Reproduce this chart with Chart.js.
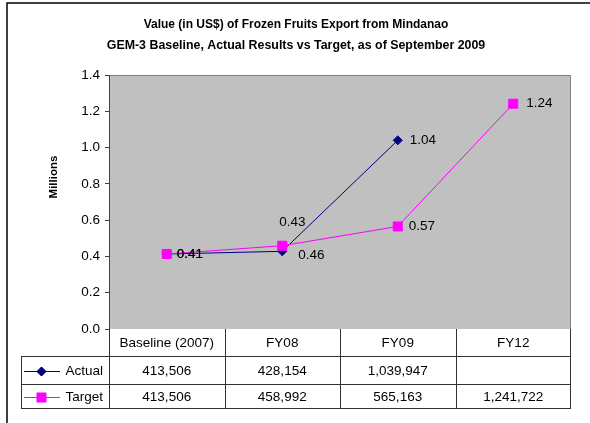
<!DOCTYPE html>
<html><head><meta charset="utf-8">
<script src="https://cdn.jsdelivr.net/npm/chart.js@4/dist/chart.umd.min.js"></script>
<style>html,body{margin:0;padding:0;background:#fff}#wrap{width:590px;height:423px}</style>
</head><body><div id="wrap"><canvas id="c" width="590" height="423"></canvas></div>
<script>
// ---- data ----
const categories = ['Baseline (2007)', 'FY08', 'FY09', 'FY12'];
const seriesNames = ['Actual', 'Target'];
const actualValues = [413506, 428154, 1039947, null];
const targetValues = [413506, 458992, 565163, 1241722];
const yTickValues = [0, 0.2, 0.4, 0.6, 0.8, 1.0, 1.2, 1.4];
const titleLines = ['Value (in US$) of Frozen Fruits Export from Mindanao',
                    'GEM-3 Baseline, Actual Results vs Target, as of September 2009'];
const yAxisTitle = 'Millions';

// ---- styling ----
const FONT = '"Liberation Sans", Arial, sans-serif';
const colors = { Actual: '#000080', Target: '#FF00FF' };
// label offsets [dx, dy] per point (styling only)
const labelOffsets = {
  Actual: [[10, 0], [-3, -29], [12, 0], [12, 0]],
  Target: [[10, 0], [16, 10], [11, 0], [13, 0]]
};

const toMillions = a => a.map(v => v == null ? null : v / 1e6);
const fmtThousands = v => v == null ? '' : v.toLocaleString('en-US');

const bgPlugin = {
  id: 'bg',
  beforeDraw(chart) {
    const { ctx, chartArea: a } = chart;
    ctx.save();
    ctx.fillStyle = '#fff';
    ctx.fillRect(0, 0, chart.width, chart.height);
    // outer frame (cropped)
    ctx.strokeStyle = '#000';
    ctx.lineWidth = 1.5;
    ctx.beginPath();
    ctx.moveTo(7, 423); ctx.lineTo(7, 3); ctx.lineTo(590, 3);
    ctx.stroke();
    // plot area
    ctx.fillStyle = '#C0C0C0';
    ctx.fillRect(a.left, a.top, a.right - a.left, a.bottom - a.top);
    ctx.strokeStyle = '#808080';
    ctx.lineWidth = 1;
    ctx.beginPath();
    ctx.moveTo(a.left, a.top + 0.5); ctx.lineTo(a.right - 0.5, a.top + 0.5); ctx.lineTo(a.right - 0.5, a.bottom);
    ctx.stroke();
    // title
    ctx.fillStyle = '#000';
    ctx.textAlign = 'center';
    ctx.textBaseline = 'middle';
    ctx.font = 'bold 12px ' + FONT;
    ctx.fillText(titleLines[0], 296, 25);
    ctx.font = 'bold 12.4px ' + FONT;
    ctx.fillText(titleLines[1], 296, 46);
    // y axis title
    ctx.save();
    ctx.translate(54, 177);
    ctx.rotate(-Math.PI / 2);
    ctx.font = 'bold 11.5px ' + FONT;
    ctx.fillText(yAxisTitle, 0, 0);
    ctx.restore();
    ctx.restore();
  }
};

const tablePlugin = {
  id: 'table',
  afterDatasetsDraw(chart) {
    const { ctx, chartArea: a, scales: { x } } = chart;
    const half = (x.getPixelForValue(1) - x.getPixelForValue(0)) / 2;
    const rows = [a.bottom, a.bottom + 27, a.bottom + 55, a.bottom + 79];
    const legendLeft = 21;
    ctx.save();
    // data labels
    ctx.font = '13.5px ' + FONT;
    ctx.fillStyle = '#000';
    ctx.textAlign = 'left';
    ctx.textBaseline = 'middle';
    chart.data.datasets.forEach((ds, di) => {
      const meta = chart.getDatasetMeta(di);
      const offs = labelOffsets[ds.label];
      meta.data.forEach((pt, i) => {
        if (ds.data[i] == null) return;
        ctx.fillText(ds.data[i].toFixed(2), pt.x + offs[i][0], pt.y + offs[i][1]);
      });
    });
    // table grid
    ctx.strokeStyle = '#333';
    ctx.lineWidth = 1;
    ctx.beginPath();
    ctx.moveTo(a.left, rows[1] + 0.5); ctx.lineTo(a.right, rows[1] + 0.5);
    ctx.moveTo(legendLeft, rows[1] + 0.5); ctx.lineTo(a.left, rows[1] + 0.5);
    ctx.moveTo(legendLeft, rows[2] + 0.5); ctx.lineTo(a.right, rows[2] + 0.5);
    ctx.moveTo(legendLeft, rows[3] + 0.5); ctx.lineTo(a.right, rows[3] + 0.5);
    ctx.moveTo(legendLeft + 0.5, rows[1]); ctx.lineTo(legendLeft + 0.5, rows[3] + 1);
    categories.forEach((c, i) => {
      const xl = Math.round(x.getPixelForValue(i) - half) + 0.5;
      ctx.moveTo(xl, rows[0]); ctx.lineTo(xl, rows[3] + 1);
    });
    ctx.moveTo(Math.round(a.right) - 0.5, rows[0]); ctx.lineTo(Math.round(a.right) - 0.5, rows[3] + 1);
    ctx.stroke();
    // header text
    ctx.textAlign = 'center';
    ctx.textBaseline = 'middle';
    categories.forEach((c, i) => ctx.fillText(c, x.getPixelForValue(i), (rows[0] + rows[1]) / 2 + 1));
    const seriesRaw = [actualValues, targetValues];
    seriesRaw.forEach((vals, r) => {
      const cy = (rows[r + 1] + rows[r + 2]) / 2 + 1;
      vals.forEach((v, i) => ctx.fillText(fmtThousands(v), x.getPixelForValue(i), cy));
      // legend key
      const name = seriesNames[r];
      ctx.strokeStyle = colors[name];
      ctx.beginPath();
      ctx.moveTo(24, Math.round(cy) + 0.5); ctx.lineTo(60, Math.round(cy) + 0.5);
      ctx.stroke();
      const ds = chart.data.datasets.find(d => d.label === name);
      Chart.helpers.drawPoint(ctx, { pointStyle: ds.pointStyle, radius: ds.pointRadius, borderWidth: 1 }, 41.5, Math.round(cy) + 0.5);
      ctx.fillStyle = colors[name];
      ctx.fill();
      ctx.fillStyle = '#000';
      ctx.textAlign = 'right';
      ctx.fillText(name, 103, cy);
      ctx.textAlign = 'center';
    });
    ctx.restore();
  }
};

new Chart(document.getElementById('c'), {
  type: 'line',
  data: {
    labels: categories,
    datasets: [
      { label: 'Actual', data: toMillions(actualValues), borderColor: colors.Actual, backgroundColor: colors.Actual,
        borderWidth: 1, pointStyle: 'rectRot', pointRadius: 4.5, pointBorderWidth: 1, order: 1, tension: 0 },
      { label: 'Target', data: toMillions(targetValues), borderColor: colors.Target, backgroundColor: colors.Target,
        borderWidth: 1, pointStyle: 'rect', pointRadius: 6.4, pointBorderWidth: 1, order: 0, tension: 0 }
    ]
  },
  options: {
    responsive: false,
    animation: false,
    devicePixelRatio: 1,
    layout: { padding: { left: 0, top: 75, right: 19, bottom: 94 } },
    plugins: { legend: { display: false }, title: { display: false }, tooltip: { enabled: false } },
    scales: {
      x: { type: 'category', offset: true, display: false },
      y: {
        min: 0, max: 1.4,
        afterFit: s => { s.width = 109; },
        afterBuildTicks: s => { s.ticks = yTickValues.map(v => ({ value: v })); },
        ticks: { color: '#000', font: { family: FONT, size: 13.5 }, padding: 5, callback: v => Number(v).toFixed(1) },
        grid: { drawOnChartArea: false, drawTicks: true, tickLength: 4, color: '#404040' },
        border: { display: true, color: '#404040', width: 1 }
      }
    }
  },
  plugins: [bgPlugin, tablePlugin]
});
</script>
</body></html>
